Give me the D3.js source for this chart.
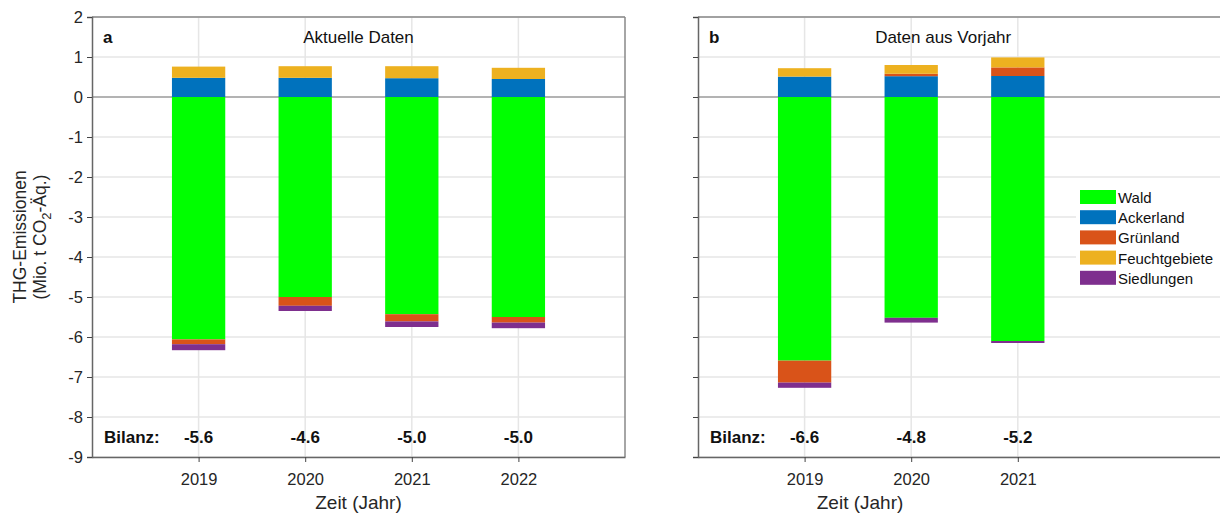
<!DOCTYPE html>
<html>
<head>
<meta charset="utf-8">
<script src="https://cdn.jsdelivr.net/npm/d3@7"></script>
<style>
  body { margin: 0; background: #fff; }
  text { font-family: "Liberation Sans", Arial, sans-serif; }
</style>
</head>
<body>
<div id="chart"></div>
<script>
// categories and series
const keys = ["Wald", "Ackerland", "Grünland", "Feuchtgebiete", "Siedlungen"];
const colors = ["#00ff00", "#0072bd", "#d95319", "#edb120", "#7e2f8e"];

// panel a: Aktuelle Daten
const yearsA = [2019, 2020, 2021, 2022];
const waldA = [-6.06, -5.0, -5.43, -5.5];
const ackerA = [0.48, 0.48, 0.47, 0.45];
const gruenA = [-0.12, -0.22, -0.18, -0.14];
const feuchtA = [0.28, 0.29, 0.30, 0.28];
const siedA = [-0.15, -0.13, -0.14, -0.14];
const bilanzA = ["-5.6", "-4.6", "-5.0", "-5.0"];

// panel b: Daten aus Vorjahr
const yearsB = [2019, 2020, 2021];
const waldB = [-6.59, -5.52, -6.1];
const ackerB = [0.51, 0.52, 0.525];
const gruenB = [-0.55, 0.06, 0.215];
const feuchtB = [0.21, 0.22, 0.25];
const siedB = [-0.13, -0.12, -0.05];
const bilanzB = ["-6.6", "-4.8", "-5.2"];

const yTicks = [2, 1, 0, -1, -2, -3, -4, -5, -6, -7, -8, -9];

const width = 1220, height = 514;
const plotTop = 17, plotBottom = 457, pw = 533;
const font = "Liberation Sans, Arial, sans-serif";

const svg = d3.select("#chart").append("svg")
  .attr("width", width)
  .attr("height", height);

const y = d3.scaleLinear().domain([-9, 2]).range([plotBottom, plotTop]);
const color = d3.scaleOrdinal().domain(keys).range(colors);

function panel(x0, years, series, bilanz, opts) {
  const x = d3.scaleLinear().domain([2018, 2023]).range([x0, x0 + pw]);
  const rows = years.map((yr, i) => {
    const r = { year: yr };
    keys.forEach((k, j) => r[k] = series[j][i]);
    return r;
  });
  const stacked = d3.stack().keys(keys).offset(d3.stackOffsetDiverging)(rows);

  const g = svg.append("g");

  // grid
  g.append("g").selectAll("line").data(yTicks).join("line")
    .attr("x1", x0).attr("x2", x0 + pw)
    .attr("y1", d => y(d)).attr("y2", d => y(d))
    .attr("stroke", "#e6e6e6").attr("stroke-width", 1.5);
  g.append("g").selectAll("line").data(years).join("line")
    .attr("x1", d => x(d)).attr("x2", d => x(d))
    .attr("y1", plotTop).attr("y2", plotBottom)
    .attr("stroke", "#e6e6e6").attr("stroke-width", 1.5);

  // zero line
  g.append("line")
    .attr("x1", x0).attr("x2", x0 + pw)
    .attr("y1", y(0)).attr("y2", y(0))
    .attr("stroke", "#a0a0a0").attr("stroke-width", 1.5);

  // bars
  const bw = (x(1) - x(0)) * 0.5;
  g.append("g").selectAll("g").data(stacked).join("g")
    .attr("fill", d => color(d.key))
    .selectAll("rect").data(d => d).join("rect")
    .attr("x", d => x(d.data.year) - bw / 2)
    .attr("width", bw)
    .attr("y", d => y(Math.max(d[0], d[1])))
    .attr("height", d => Math.abs(y(d[0]) - y(d[1])));

  // frame
  g.append("line").attr("x1", x0).attr("x2", x0 + pw).attr("y1", plotTop).attr("y2", plotTop)
    .attr("stroke", "#888").attr("stroke-width", 1.5);
  if (opts.rightBorder) {
    g.append("line").attr("x1", x0 + pw).attr("x2", x0 + pw).attr("y1", plotTop).attr("y2", plotBottom)
      .attr("stroke", "#888").attr("stroke-width", 1.5);
  }

  // axes
  const ya = g.append("g").attr("transform", `translate(${x0},0)`)
    .call(d3.axisLeft(y).tickValues(yTicks).tickSize(5).tickPadding(4)
      .tickFormat(opts.labels ? (d => String(d)) : ""));
  ya.select(".domain").attr("stroke", "#666").attr("stroke-width", 1.5);
  ya.selectAll(".tick line").attr("stroke", "#444");
  ya.selectAll("text").attr("font-size", 16.5).attr("fill", "#262626")
    .style("font-family", font);

  const xa = g.append("g").attr("transform", `translate(0,${plotBottom})`)
    .call(d3.axisBottom(x).tickValues(years).tickSize(5).tickPadding(11).tickSizeOuter(0)
      .tickFormat(d => String(d)));
  xa.select(".domain").attr("stroke", "#666").attr("stroke-width", 1.5);
  xa.selectAll(".tick line").attr("stroke", "#444");
  xa.selectAll("text").attr("font-size", 16.5).attr("fill", "#262626")
    .style("font-family", font);

  // Bilanz row
  g.append("text").attr("x", x0 + 12).attr("y", 443)
    .attr("font-size", 17).attr("font-weight", "bold").attr("fill", "#111")
    .text("Bilanz:");
  g.append("g").selectAll("text").data(bilanz).join("text")
    .attr("x", (d, i) => x(years[i]))
    .attr("y", 443)
    .attr("text-anchor", "middle")
    .attr("font-size", 17).attr("font-weight", "bold").attr("fill", "#111")
    .text(d => d);

  // panel letter and title
  g.append("text").attr("x", x0 + 11).attr("y", 43)
    .attr("font-size", 17).attr("font-weight", "bold").attr("fill", "#111")
    .text(opts.letter);
  g.append("text").attr("x", x(opts.titleAt)).attr("y", 43)
    .attr("text-anchor", "middle").attr("font-size", 17).attr("fill", "#111")
    .text(opts.title);

  // x title
  g.append("text").attr("x", x(opts.xTitleAt)).attr("y", 509)
    .attr("text-anchor", "middle").attr("font-size", 19).attr("fill", "#262626")
    .text("Zeit (Jahr)");

  return x;
}

panel(92, yearsA, [waldA, ackerA, gruenA, feuchtA, siedA], bilanzA,
  { labels: true, rightBorder: true, letter: "a", title: "Aktuelle Daten", titleAt: 2020.5, xTitleAt: 2020.5 });
panel(698, yearsB, [waldB, ackerB, gruenB, feuchtB, siedB], bilanzB,
  { labels: false, rightBorder: false, letter: "b", title: "Daten aus Vorjahr", titleAt: 2020.3, xTitleAt: 2019.52 });

// y axis title
const yt = svg.append("text")
  .attr("transform", `translate(26,${y(-3.5)}) rotate(-90)`)
  .attr("text-anchor", "middle").attr("font-size", 17.5).attr("fill", "#262626");
yt.append("tspan").attr("x", 0).attr("dy", 0).text("THG-Emissionen");
yt.append("tspan").attr("x", 0).attr("dy", 20).text("(Mio. t CO");
yt.append("tspan").attr("dy", 5).attr("font-size", 13).text("2");
yt.append("tspan").attr("dy", -5).text("-Äq.)");

// legend
const legend = svg.append("g").attr("transform", "translate(1076,187)");
legend.append("rect").attr("width", 150).attr("height", 104).attr("fill", "#fff");
const li = legend.selectAll("g").data(keys).join("g")
  .attr("transform", (d, i) => `translate(4,${3 + i * 20.2})`);
li.append("rect").attr("width", 36).attr("height", 14).attr("fill", d => color(d));
li.append("text").attr("x", 38).attr("y", 13).attr("font-size", 15).attr("fill", "#111")
  .text(d => d);
</script>
</body>
</html>
